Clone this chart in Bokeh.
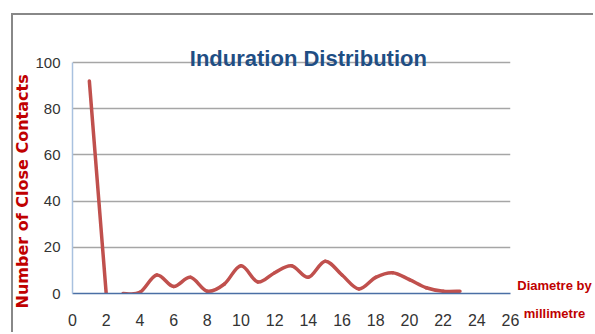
import math
from bokeh.plotting import figure
from bokeh.models import Range1d, FixedTicker, Label
from bokeh.embed import file_html
from bokeh.resources import INLINE

# ---- data ----
title_text = "Induration Distribution"
y_label_text = "Number of Close Contacts"
x_label_line1 = "Diametre by"
x_label_line2 = "millimetre"

x_ticks = [0, 2, 4, 6, 8, 10, 12, 14, 16, 18, 20, 22, 24, 26]
y_ticks = [0, 20, 40, 60, 80, 100]

diam_a = [1, 2]
count_a = [92, 0]

diam_b = [3, 4, 5, 6, 7, 8, 9, 10, 11, 12, 13, 14, 15, 16, 17, 18, 19, 20, 21, 22, 23]
count_b = [0, 0.5, 8, 3, 7, 1, 4, 12, 5, 9, 12, 7, 14, 8, 2, 7, 9, 6, 2.5, 1, 1]

LINE_COLOR = "#c0504d"
RED = "#c00000"
FONT = "Liberation Sans"


def smooth_segments(xs, ys):
    """Bezier control points for a spreadsheet-style smoothed line."""
    n = len(xs)
    out = dict(x0=[], y0=[], x1=[], y1=[], cx0=[], cy0=[], cx1=[], cy1=[])
    for i in range(n - 1):
        a = i - 1 if i > 0 else i
        d = i + 2 if i + 2 < n else i + 1
        out["x0"].append(xs[i]); out["y0"].append(ys[i])
        out["x1"].append(xs[i + 1]); out["y1"].append(ys[i + 1])
        out["cx0"].append(xs[i] + (xs[i + 1] - xs[a]) / 6.0)
        out["cy0"].append(ys[i] + (ys[i + 1] - ys[a]) / 6.0)
        out["cx1"].append(xs[i + 1] - (xs[d] - xs[i]) / 6.0)
        out["cy1"].append(ys[i + 1] - (ys[d] - ys[i]) / 6.0)
    return out


p = figure(
    width=582, height=319,
    x_range=Range1d(0, 26), y_range=Range1d(0, 106.93),
    output_backend="svg", toolbar_location=None,
    min_border_left=59, min_border_right=85, min_border_top=31, min_border_bottom=41,
    background_fill_color="white", border_fill_color="white",
    outline_line_color=None,
)
p.styles = {
    "margin-left": "13px",
    "margin-top": "15px",
    "box-shadow": "-2px -2px 0 0 #888888",
}

# axes
p.xaxis.ticker = FixedTicker(ticks=x_ticks)
p.yaxis.ticker = FixedTicker(ticks=y_ticks)
p.yaxis.bounds = (0, 100)
for ax in (p.xaxis[0], p.yaxis[0]):
    ax.major_tick_in = 0
    ax.major_tick_out = 0
    ax.minor_tick_in = 0
    ax.minor_tick_out = 0
    ax.major_label_text_font = FONT
    ax.major_label_text_font_size = "15px"
    ax.major_label_text_color = "#333333"
    ax.axis_line_width = 1.5
p.xaxis.major_label_text_font_size = "16px"
p.xaxis.axis_line_color = "#4a6fa5"
p.yaxis.axis_line_color = "#a9c1df"
p.xaxis.major_label_standoff = 20
p.yaxis.major_label_standoff = 12

p.xgrid.grid_line_color = None
p.ygrid.ticker = FixedTicker(ticks=y_ticks)
p.ygrid.grid_line_color = "#a6a6a6"
p.ygrid.grid_line_width = 1.5

# data lines
p.line(diam_a, count_a, line_color=LINE_COLOR, line_width=3.5, line_cap="round")
seg = smooth_segments(diam_b, count_b)
p.bezier(line_color=LINE_COLOR, line_width=3.5, line_cap="round", **seg)

# title (inside the frame, which reaches above the 100 line)
p.add_layout(Label(x=14.0, y=101.7, text=title_text, text_align="center",
                   text_baseline="alphabetic", text_font=FONT,
                   text_font_size="22px", text_font_style="bold",
                   text_color="#1f4e84"))

# y axis title (left panel, not clipped)
p.add_layout(Label(x=-2.94, y=44.2, text=y_label_text, angle=math.pi / 2,
                   text_align="center", text_baseline="middle",
                   text_font="DejaVu Sans", text_font_size="16px",
                   text_font_style="bold", text_color=RED), "left")

# x axis title (two lines; kept in the top panel so they are not clipped)
p.add_layout(Label(x=28.61, y=3.5, text=x_label_line1, text_align="center",
                   text_baseline="alphabetic", text_font=FONT,
                   text_font_size="13px", text_font_style="bold", text_color=RED), "above")
p.add_layout(Label(x=28.61, y=-8.6, text=x_label_line2, text_align="center",
                   text_baseline="alphabetic", text_font=FONT,
                   text_font_size="13px", text_font_style="bold", text_color=RED), "above")

open("out.html", "w").write(file_html(p, INLINE))
